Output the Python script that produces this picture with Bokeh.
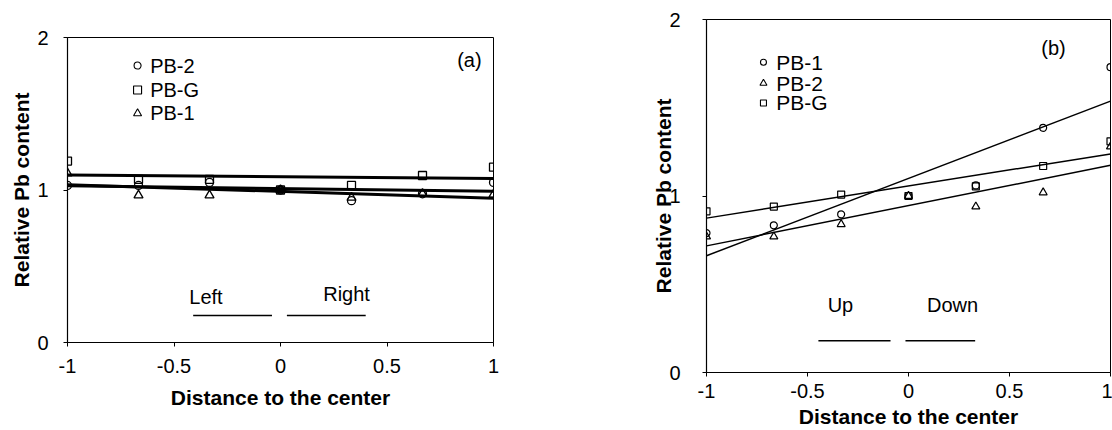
import numpy as np
from bokeh.plotting import figure
from bokeh.layouts import row
from bokeh.models import Range1d, FixedTicker, CustomJSTickFormatter, Label
from bokeh.embed import file_html
from bokeh.resources import INLINE

# ---------------- data ----------------
x_pos = [-1.0, -2/3, -1/3, 0.0, 1/3, 2/3, 1.0]
x_ticks = [-1, -0.5, 0, 0.5, 1]
y_ticks = [0, 1, 2]

# panel (a)
a_names = ["PB-2", "PB-G", "PB-1"]
a_pb2 = [1.03, 1.03, 1.05, 1.0, 0.93, 0.975, 1.05]
a_pbg = [1.19, 1.07, 1.07, 1.0, 1.03, 1.095, 1.15]
a_pb1 = [1.11, 0.965, 0.965, 1.0, 0.95, 0.975, 0.97]

# panel (b)
b_names = ["PB-1", "PB-2", "PB-G"]
b_pb1 = [0.79, 0.834, 0.896, 1.0, 1.06, 1.386, 1.73]
b_pb2 = [0.77, 0.77, 0.84, 1.0, 0.94, 1.02, 1.28]
b_pbg = [0.913, 0.94, 1.008, 1.0, 1.055, 1.17, 1.31]

# direction annotations
a_dir_labels = ["Left", "Right"]
b_dir_labels = ["Up", "Down"]

FONT = "Liberation Sans"

# ---------------- layout positions (data coordinates of annotations) ----------------
A_LEG = dict(mx=-0.671, tx=-0.612, ys=[1.816, 1.656, 1.502])
B_LEG = dict(mx=-0.718, tx=-0.655, ys=[1.758, 1.639, 1.527])
A_DIR = dict(tx=[-0.35, 0.31], ty=[0.30, 0.32], x0=[-0.41, 0.03], x1=[-0.04, 0.40], y=0.177)
B_DIR = dict(tx=[-0.337, 0.218], ty=[0.38, 0.38], x0=[-0.446, -0.015], x1=[-0.089, 0.33], y=0.18)


def style(p, ts_x, ts_y, ls_x, ls_y):
    p.xaxis.ticker = FixedTicker(ticks=x_ticks)
    p.yaxis.ticker = FixedTicker(ticks=y_ticks)
    p.xaxis.formatter = CustomJSTickFormatter(code="return tick.toString();")
    p.yaxis.formatter = CustomJSTickFormatter(code="return tick.toString();")
    p.xgrid.visible = False
    p.ygrid.visible = False
    p.outline_line_color = "black"
    p.outline_line_width = 1
    for ax in (p.xaxis[0], p.yaxis[0]):
        ax.axis_line_color = "black"
        ax.axis_line_width = 1.2
        ax.major_tick_in = 0
        ax.major_tick_out = 4
        ax.major_tick_line_color = "black"
        ax.minor_tick_line_color = None
        ax.major_label_text_font = FONT
        ax.major_label_text_font_size = "20px"
        ax.major_label_text_color = "black"
        ax.axis_label_text_font = FONT
        ax.axis_label_text_font_size = "21px"
        ax.axis_label_text_font_style = "bold"
        ax.axis_label_text_color = "black"
    p.xaxis.major_label_standoff = ts_x
    p.yaxis.major_label_standoff = ts_y
    p.xaxis.axis_label_standoff = ls_x
    p.yaxis.axis_label_standoff = ls_y
    p.xaxis.axis_label = "Distance to the center"
    p.yaxis.axis_label = "Relative Pb content"


def fit_line(p, ys, width):
    k, b = np.polyfit(np.array(x_pos), np.array(ys), 1)
    xs = np.array([x_pos[0], x_pos[-1]])
    p.line(xs, k * xs + b, line_color="black", line_width=width)


def txt(p, x, y, t, size, align="center"):
    p.add_layout(Label(x=x, y=y, text=t, text_align=align, text_baseline="middle",
                       text_font=FONT, text_font_size=size, text_color="black"))


def legend(p, names, markers, sizes, pos, font_size):
    for name, m, s, y in zip(names, markers, sizes, pos["ys"]):
        p.scatter([pos["mx"]], [y], marker=m, size=s, line_color="black",
                  fill_alpha=0, line_width=1.1)
        txt(p, pos["tx"], y, name, font_size, align="left")


# ---------------- panel (a) ----------------
pa = figure(width=600, height=430, x_range=Range1d(-1, 1), y_range=Range1d(0, 2),
            output_backend="svg", toolbar_location=None, frame_align=False,
            min_border_left=67, min_border_right=107,
            min_border_top=37, min_border_bottom=88)
style(pa, 12, 15, 10, 1)

for ys in (a_pbg, a_pb2, a_pb1):
    fit_line(pa, ys, 3)

pa.scatter(x_pos, a_pb2, marker="circle", size=8, line_color="black",
           fill_alpha=0, line_width=1.3)
pa.scatter(x_pos, a_pbg, marker="square", size=8, line_color="black",
           fill_alpha=0, line_width=1.3)
pa.scatter(x_pos, a_pb1, marker="triangle", size=9, line_color="black",
           fill_alpha=0, line_width=1.3)

legend(pa, a_names, ["circle", "square", "triangle"], [7, 8, 8], A_LEG, "20px")

pa.segment(A_DIR["x0"], [A_DIR["y"]] * 2, A_DIR["x1"], [A_DIR["y"]] * 2,
           line_color="black", line_width=1.5)
for t, x, y in zip(a_dir_labels, A_DIR["tx"], A_DIR["ty"]):
    txt(pa, x, y, t, "20px")
txt(pa, 0.887, 1.85, "(a)", "20px")

# ---------------- panel (b) ----------------
pb = figure(width=512, height=430, x_range=Range1d(-1, 1), y_range=Range1d(0, 2),
            output_backend="svg", toolbar_location=None, frame_align=False,
            min_border_left=106, min_border_right=2,
            min_border_top=19, min_border_bottom=56)
style(pb, 7, 22, 4, -9)

for ys in (b_pb1, b_pb2, b_pbg):
    fit_line(pb, ys, 1.5)

pb.scatter(x_pos, b_pb1, marker="circle", size=7, line_color="black",
           fill_alpha=0, line_width=1.2)
pb.scatter(x_pos, b_pb2, marker="triangle", size=8, line_color="black",
           fill_alpha=0, line_width=1.2)
pb.scatter(x_pos, b_pbg, marker="square", size=7, line_color="black",
           fill_alpha=0, line_width=1.2)

legend(pb, b_names, ["circle", "triangle", "square"], [6, 7, 6], B_LEG, "21px")

pb.segment(B_DIR["x0"], [B_DIR["y"]] * 2, B_DIR["x1"], [B_DIR["y"]] * 2,
           line_color="black", line_width=1.5)
for t, x, y in zip(b_dir_labels, B_DIR["tx"], B_DIR["ty"]):
    txt(pb, x, y, t, "20px")
txt(pb, 0.718, 1.84, "(b)", "20px")

layout = row(pa, pb)
open("out.html", "w").write(file_html(layout, INLINE))
